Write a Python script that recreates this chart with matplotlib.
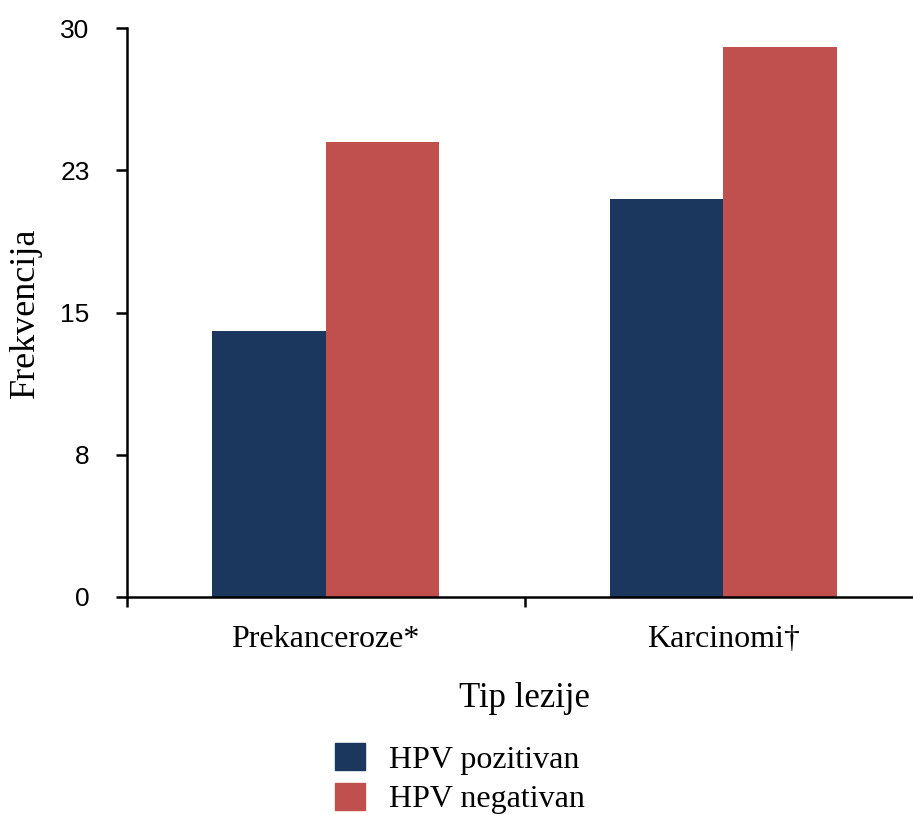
import matplotlib
matplotlib.use("Agg")
import matplotlib.pyplot as plt
import numpy as np
from matplotlib.patches import Patch

categories = ["Prekanceroze*", "Karcinomi†"]
series_names = ["HPV pozitivan", "HPV negativan"]
hpv_pos = [14, 21]
hpv_neg = [24, 29]
ytick_vals = [0, 7.5, 15, 22.5, 30]
ytick_labels = ["0", "8", "15", "23", "30"]
colors = ["#1B375E", "#C0504D"]

serif = ["Liberation Serif", "DejaVu Serif"]
sans = ["Liberation Sans", "DejaVu Sans"]

W, H = 913, 815
fig = plt.figure(figsize=(W / 100, H / 100), dpi=100)
ax = fig.add_axes([127 / W, (H - 597) / H, (922 - 127) / W, (597 - 28) / H])

x = np.arange(len(categories))
bw = 0.285
ax.bar(x - bw / 2, hpv_pos, width=bw, color=colors[0], label=series_names[0])
ax.bar(x + bw / 2, hpv_neg, width=bw, color=colors[1], label=series_names[1])

ax.set_xlim(-0.5, 1.5)
ax.set_ylim(0, 30)
ax.set_yticks(ytick_vals)
ax.set_yticklabels(ytick_labels, fontfamily=sans, fontsize=19)
ax.set_xticks([-0.5, 0.5, 1.5])
ax.set_xticklabels([])
ax.set_xticks(x, minor=True)
ax.set_xticklabels(categories, minor=True, fontfamily=serif, fontsize=23)
ax.tick_params(axis="x", which="minor", length=0, pad=20)
ax.tick_params(axis="x", which="major", length=7, width=1.8, direction="out")
ax.tick_params(axis="y", length=8, width=1.8, direction="out", pad=19)

for s in ["top", "right"]:
    ax.spines[s].set_visible(False)
for s in ["left", "bottom"]:
    ax.spines[s].set_linewidth(1.8)

ax.set_xlabel("Tip lezije", fontfamily=serif, fontsize=25, labelpad=20)
ax.set_ylabel("Frekvencija", fontfamily=serif, fontsize=26, labelpad=13)

handles = [Patch(color=colors[0]), Patch(color=colors[1])]
fig.legend(handles, series_names, loc="upper left",
           bbox_to_anchor=(335 / W, 1 - 743 / H), frameon=False,
           prop={"family": serif, "size": 23}, handlelength=0.94,
           handleheight=0.94, handletextpad=0.75, labelspacing=0.25,
           borderpad=0, borderaxespad=0)

fig.savefig("out.png", dpi=100)
